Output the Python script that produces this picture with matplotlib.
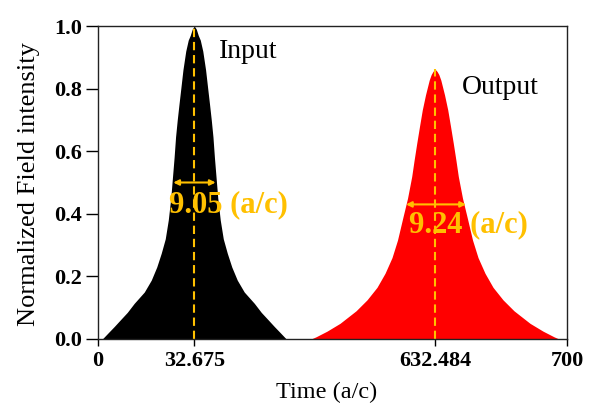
import matplotlib
matplotlib.use("Agg")
import matplotlib.pyplot as plt

plt.rcParams['font.family'] = ['Liberation Serif', 'DejaVu Serif']

# pulse profiles: intensity level and half width
# (x in the stretched axis units of the original, 0..700)
input_center = 143.7
input_level = [1.0, 0.99, 0.97, 0.955, 0.92, 0.86, 0.80, 0.75, 0.70, 0.646, 0.58, 0.52,
               0.45, 0.38, 0.32, 0.274, 0.23, 0.188, 0.15, 0.114, 0.085, 0.061, 0.04, 0.02, 0.0]
input_halfw = [0, 3, 6, 9, 12.7, 16.9, 20.1, 22.8, 25.4, 27.9, 30.1, 32.4,
               35.1, 38.8, 43.3, 49.3, 56, 64.2, 74.6, 89.6, 100, 110.4, 119.4, 128.4, 137.3]

output_center = 503
output_level = [0.862, 0.855, 0.845, 0.827, 0.78, 0.732, 0.68, 0.625, 0.57, 0.519, 0.45,
                0.39, 0.316, 0.26, 0.21, 0.165, 0.125, 0.09, 0.05, 0.025, 0.007, 0.0]
output_halfw = [0, 3, 5.7, 8.7, 14.2, 19, 23.1, 27.3, 31.3, 34.8, 41,
                47.8, 56, 64.2, 74.6, 86.6, 101.5, 117.9, 141.8, 161.2, 177.6, 185]

tick_pos = [0, 143.7, 503, 700]
tick_labels = ["0", "32.675", "632.484", "700"]
y_ticks = [0.0, 0.2, 0.4, 0.6, 0.8, 1.0]

fwhm_in = (112.4, 175.6, 0.50)
fwhm_out = (459.7, 549.2, 0.43)

orange = '#FFC000'


def pulse(center, level, halfw):
    # mirror the half profile around the peak
    t = [center - w for w in halfw[::-1]] + [center + w for w in halfw[1:]]
    y = level[::-1] + level[1:]
    return t, y


fig = plt.figure(figsize=(5.92, 4.16), dpi=100)
ax = fig.add_axes([0.1655, 0.1851, 0.7923, 0.7524])

t_in, y_in = pulse(input_center, input_level, input_halfw)
t_out, y_out = pulse(output_center, output_level, output_halfw)
ax.fill_between(t_in, y_in, 0, color='black', lw=0)
ax.fill_between(t_out, y_out, 0, color='#FF0000', lw=0)

# peak markers
ax.plot([input_center, input_center], [0, max(input_level)], color=orange, lw=1.5, dashes=(4, 2.3))
ax.plot([output_center, output_center], [0, max(output_level)], color=orange, lw=1.5, dashes=(4, 2.3))

# FWHM arrows
for x0, x1, yy in [fwhm_in, fwhm_out]:
    ax.annotate('', xy=(x0, yy), xytext=(x1, yy),
                arrowprops=dict(arrowstyle='<|-|>', color=orange, lw=1.5,
                                mutation_scale=8, shrinkA=0, shrinkB=0))

ax.text(195, 0.428, '9.05 (a/c)', color=orange, fontsize=22, fontweight='bold',
        ha='center', va='center')
ax.text(553, 0.364, '9.24 (a/c)', color=orange, fontsize=22, fontweight='bold',
        ha='center', va='center')
ax.text(180.6, 0.917, 'Input', fontsize=20, ha='left', va='center')
ax.text(543, 0.802, 'Output', fontsize=20, ha='left', va='center')

ax.set_xlim(0, 700)
ax.set_ylim(0, 1.0)
ax.set_xticks(tick_pos)
ax.set_xticklabels(tick_labels)
ax.set_yticks(y_ticks)
ax.set_yticklabels(['%.1f' % v for v in y_ticks])

for lab in ax.get_xticklabels() + ax.get_yticklabels():
    lab.set_fontweight('bold')
    lab.set_fontsize(16)

ax.tick_params(axis='y', direction='out', length=8.6, width=1, pad=3)
ax.tick_params(axis='x', direction='out', length=5, width=1, pad=3.5)
for s in ax.spines.values():
    s.set_linewidth(1)
    s.set_color('#222222')

ax.set_xlabel('Time (a/c)', fontsize=17.5)
ax.xaxis.set_label_coords(0.487, -0.1355)
ax.set_ylabel('Normalized Field intensity', fontsize=19)
ax.yaxis.set_label_coords(-0.1237, 0.495)

fig.savefig('out.png', dpi=100)
